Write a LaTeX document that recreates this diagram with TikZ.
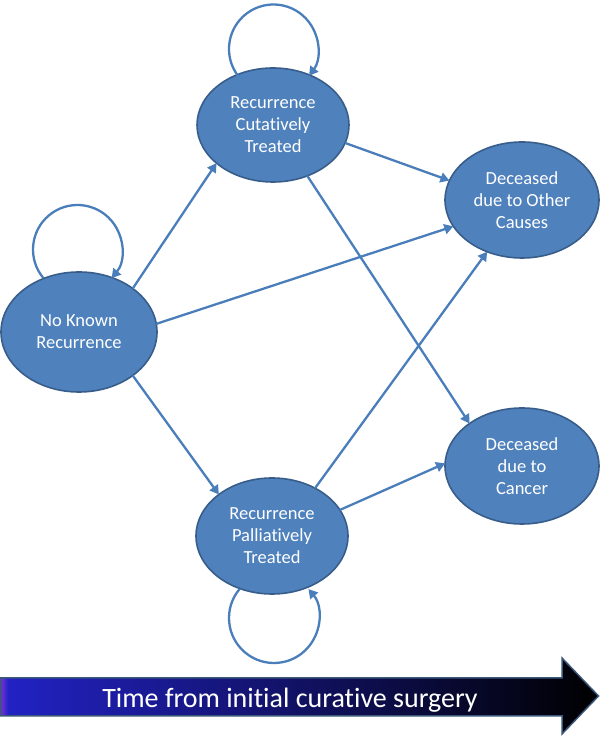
\documentclass[tikz,border=0pt]{standalone}
\usepackage{fontspec}
\setmainfont{Carlito}[Ligatures=NoCommon]
\usetikzlibrary{arrows.meta,shapes.geometric}
\definecolor{nodefill}{HTML}{4F81BD}
\definecolor{nodeline}{HTML}{385D8A}
\definecolor{edgecol}{HTML}{4A7EBB}
\definecolor{tpurple}{HTML}{7A30D8}
\definecolor{tblue}{HTML}{2222C4}
\definecolor{tborder}{HTML}{3A5678}
\pgfdeclarehorizontalshading{timeshade}{100bp}{color(0bp)=(tpurple); color(25bp)=(tpurple); color(25.6bp)=(tblue); color(75bp)=(black); color(100bp)=(black)}
\tikzset{
  state/.style={ellipse, fill=nodefill, draw=nodeline, line width=1.6pt,
    inner sep=0pt, outer sep=0pt, text=white, align=center,
    font=\fontsize{18.5}{22}\selectfont},
  trans/.style={draw=edgecol, line width=2.3pt, -{Triangle[length=9pt,width=10pt]}},
}
\begin{document}
\begin{tikzpicture}[x=1pt,y=1pt]
\useasboundingbox (0,0) rectangle (600,736);
% states
\node[state, minimum width=156pt, minimum height=120pt] (nkr) at (79,404) {No Known\\Recurrence};
\node[state, minimum width=152pt, minimum height=114pt] (rct) at (273,611) {Recurrence\\Cutatively\\Treated};
\node[state, minimum width=152pt, minimum height=116pt] (rpt) at (272,200) {Recurrence\\Palliatively\\Treated};
\node[state, minimum width=154pt, minimum height=116pt] (doc) at (522,536) {Deceased\\due to Other\\Causes};
\node[state, minimum width=154pt, minimum height=116pt] (dc) at (522,270) {Deceased\\due to\\Cancer};
% transitions
\draw[trans] (nkr.39.4) -- (rct.214.3);
\draw[trans] (nkr.6.5) -- (doc.201);
\draw[trans] (nkr.321.2) -- (rpt.142.8);
\draw[trans] (rct.346.8) -- (doc.165.4);
\draw[trans] (rct.304) -- (dc.141.3);
\draw[trans] (rpt.48.6) -- (doc.236.7);
\draw[trans] (rpt.21.5) -- (dc.178.5);
% self loops
\coordinate (nkrloop) at (77.5,486.5);
\coordinate (rctloop) at (273.5,687);
\coordinate (rptloop) at (274,118);
\draw[trans] ([shift={(220:44.5)}]nkrloop) arc[start angle=220, end angle=-40, radius=44.5];
\draw[trans] ([shift={(217:44.5)}]rctloop) arc[start angle=217, end angle=-37, radius=44.5];
\draw[trans] ([shift={(140:45)}]rptloop) arc[start angle=140, end angle=400, radius=45];
% time arrow
\shadedraw[shading=timeshade, draw=tborder, line width=1.5pt, line join=miter]
  (0.75,20) -- (562,20) -- (562,2) -- (598.5,40) -- (562,78) -- (562,58) -- (0.75,58) -- cycle;
\node[text=white, font=\fontsize{28}{32}\selectfont, anchor=base] (timelabel) at (290,28) {Time from initial curative surgery};
\end{tikzpicture}
\end{document}
